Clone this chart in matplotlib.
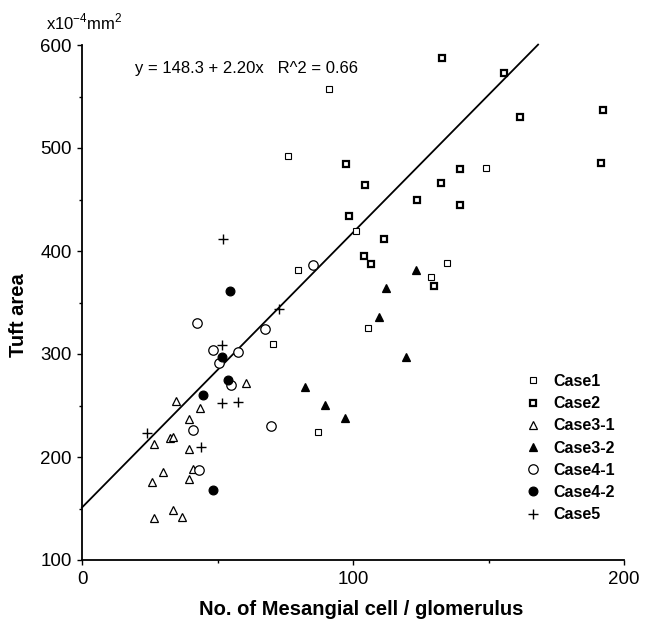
import matplotlib
matplotlib.use("Agg")
import matplotlib.pyplot as plt
from matplotlib.lines import Line2D

plt.rcParams['font.family'] = ['Liberation Sans', 'DejaVu Sans']
plt.rcParams['mathtext.fontset'] = 'custom'
plt.rcParams['mathtext.rm'] = 'Liberation Sans'

# ---- data ----
case1_x = [91.1, 75.9, 149.2, 101.2, 79.6, 134.8, 128.7, 105.6, 70.4, 87.0]
case1_y = [557.6, 492.5, 480.6, 419.4, 381.6, 388.0, 375.0, 324.9, 309.7, 224.6]

case2_x = [133.0, 155.6, 161.6, 192.4, 191.5, 97.5, 139.4, 104.6, 132.3, 123.6,
           139.4, 98.7, 111.6, 103.9, 106.8, 129.9]
case2_y = [587.0, 573.0, 530.4, 536.9, 485.1, 484.5, 479.6, 463.8, 466.3, 449.2,
           444.7, 434.0, 411.7, 395.1, 387.0, 366.5]

case31_x = [60.5, 34.6, 43.5, 39.3, 26.6, 32.5, 33.5, 39.3, 29.9, 40.8, 25.8,
            39.6, 33.6, 36.9, 26.6]
case31_y = [271.6, 254.1, 248.0, 236.9, 212.3, 218.0, 219.0, 208.2, 185.1, 188.0,
            176.0, 178.6, 148.5, 141.4, 140.4]

case32_x = [123.4, 112.3, 109.5, 119.4, 82.4, 89.5, 96.9]
case32_y = [382.0, 364.4, 335.6, 297.4, 268.3, 250.5, 237.6]

case41_x = [42.6, 48.5, 50.6, 57.7, 67.7, 55.0, 41.0, 43.0, 69.8, 85.4]
case41_y = [330.2, 303.9, 290.9, 301.6, 324.3, 270.3, 226.2, 187.4, 230.4, 386.4]

case42_x = [51.5, 53.7, 44.5, 48.2, 54.7]
case42_y = [297.4, 275.2, 260.6, 168.0, 361.2]

case5_x = [51.9, 51.5, 72.6, 51.5, 57.5, 23.9, 43.9]
case5_y = [411.7, 309.0, 343.4, 252.7, 253.5, 223.6, 210.0]

# regression line as drawn in the picture
line_x = [0, 168.3]
line_intercept = 151.0
line_slope = 2.67

x_ticks = [0, 100, 200]
y_ticks = [100, 200, 300, 400, 500, 600]
equation_text = "y = 148.3 + 2.20x   R^2 = 0.66"

# ---- figure ----
fig = plt.figure(figsize=(6.48, 6.21), dpi=100)
ax = fig.add_axes([82/648, 1-560/621, 542/648, 515/621])
ax.set_xlim(0, 200)
ax.set_ylim(100, 600)

k = 'black'
style = {
    'Case1': dict(marker='s', ms=4.2, mfc='white', mec=k, mew=0.8),
    'Case2': dict(marker='s', ms=4.6, mfc='white', mec=k, mew=1.6),
    'Case3-1': dict(marker='^', ms=6.0, mfc='white', mec=k, mew=0.9),
    'Case3-2': dict(marker='^', ms=6.0, mfc=k, mec=k, mew=0.9),
    'Case4-1': dict(marker='o', ms=6.8, mfc='white', mec=k, mew=0.9),
    'Case4-2': dict(marker='o', ms=6.3, mfc=k, mec=k, mew=0.9),
    'Case5': dict(marker='+', ms=6.5, mec=k, mew=1.0),
}
series = [('Case1', case1_x, case1_y), ('Case2', case2_x, case2_y),
          ('Case3-1', case31_x, case31_y), ('Case3-2', case32_x, case32_y),
          ('Case4-1', case41_x, case41_y), ('Case4-2', case42_x, case42_y),
          ('Case5', case5_x, case5_y)]

ly = [line_intercept + line_slope * v for v in line_x]
ax.plot(line_x, ly, color=k, lw=1.3, clip_on=False, zorder=2)

for name, xs, ys in series:
    ax.plot(xs, ys, ls='none', clip_on=False, zorder=3, **style[name])

handles = [Line2D([], [], ls='none', **style[n]) for n, _, _ in series]
leg = ax.legend(handles, [n for n, _, _ in series], loc='upper left',
                bbox_to_anchor=((525 - 82) / 542, (560 - 374) / 515),
                frameon=False, handlelength=1.0, handletextpad=0.8,
                labelspacing=0.45, borderpad=0, borderaxespad=0,
                prop=dict(weight='bold', size=11.5))

for s in ['top', 'right']:
    ax.spines[s].set_visible(False)
for s in ['left', 'bottom']:
    ax.spines[s].set_linewidth(1.3)

ax.set_xticks(x_ticks)
ax.set_yticks(y_ticks)
ax.set_xticks([50, 150], minor=True)
ax.set_yticks([150, 250, 350, 450, 550], minor=True)
ax.tick_params(axis='x', which='major', length=3.5, width=1.0, pad=4.5, labelsize=13.5)
ax.tick_params(axis='y', which='major', length=3.5, width=1.0, pad=4, labelsize=13.5)
ax.tick_params(which='minor', length=2, width=1.0)

ax.set_xlabel('No. of Mesangial cell / glomerulus', fontsize=14.5, fontweight='bold')
ax.xaxis.set_label_coords(0.515, -0.077)
ax.set_ylabel('Tuft area', fontsize=14.5, fontweight='bold')
ax.yaxis.set_label_coords(-0.099, 0.476)

fig.text(46/648, 1-22/621, r'x10$^{\mathregular{-4}}$mm$^{\mathregular{2}}$',
         fontsize=12, va='center', ha='left')
fig.text(135/648, 1-69/621, equation_text, fontsize=12, va='center', ha='left')

fig.savefig('out.png', dpi=100)
